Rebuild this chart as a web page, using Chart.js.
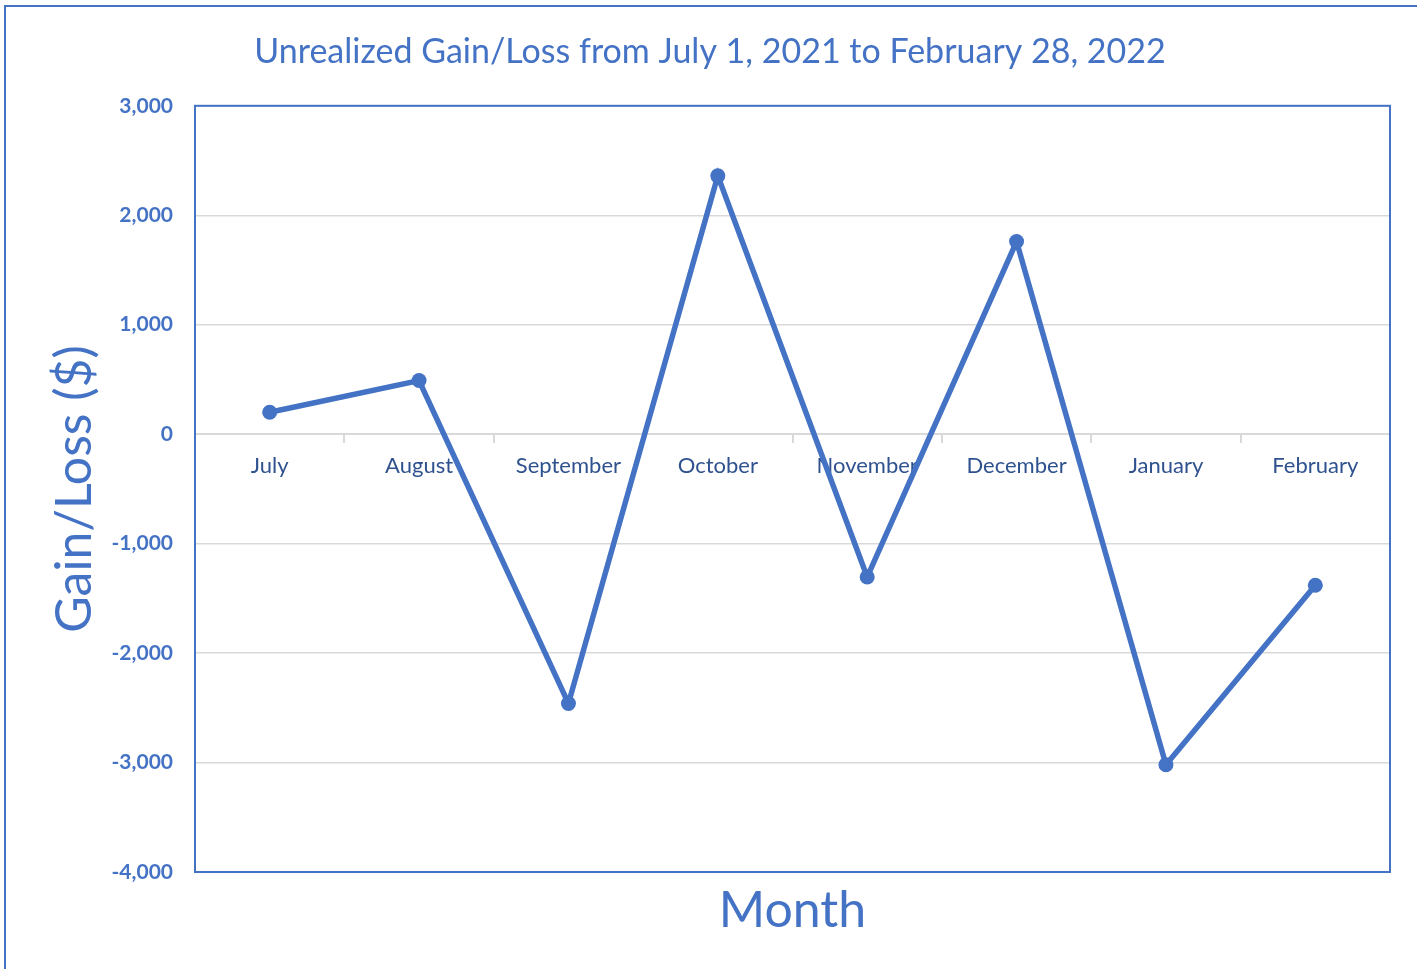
<!DOCTYPE html>
<html>
<head>
<meta charset="utf-8">
<script src="https://cdn.jsdelivr.net/npm/chart.js@4/dist/chart.umd.min.js"></script>
<style>
  html, body { margin: 0; padding: 0; background: #fff; overflow: hidden; }
  #wrap { position: relative; width: 1417px; height: 969px; }
  #frame { position: absolute; left: 4px; top: 5px; width: 1500px; height: 1100px; border: 2px solid #4472C4; box-sizing: border-box; }
  canvas { position: absolute; left: 0; top: 0; }
</style>
</head>
<body>
<div id="wrap">
  <div id="frame"></div>
  <canvas id="chart" width="1417" height="969"></canvas>
</div>
<script>
  const months = ["July", "August", "September", "October", "November", "December", "January", "February"];
  const gainLoss = [200, 490, -2460, 2360, -1305, 1760, -3020, -1380];
  const yMin = -4000;
  const yMax = 3000;
  const yStep = 1000;

  const blue = "#4472C4";
  const fontFamily = "Lato, 'Open Sans', sans-serif";

  // frame round the plot area
  const plotBorder = {
    id: "plotBorder",
    beforeDatasetsDraw(chart) {
      const { ctx, chartArea } = chart;
      ctx.save();
      ctx.strokeStyle = blue;
      ctx.lineWidth = 2;
      ctx.strokeRect(chartArea.left, chartArea.top, chartArea.right - chartArea.left, chartArea.bottom - chartArea.top);
      ctx.restore();
    }
  };

  const ctx = document.getElementById("chart").getContext("2d");
  new Chart(ctx, {
    type: "line",
    data: {
      labels: months,
      datasets: [{
        label: "Gain/Loss",
        data: gainLoss,
        borderColor: blue,
        backgroundColor: blue,
        borderWidth: 5.5,
        pointRadius: 7.5,
        pointBackgroundColor: blue,
        pointBorderWidth: 0,
        tension: 0,
        fill: false,
        xAxisID: "x",
        yAxisID: "y"
      }]
    },
    options: {
      responsive: false,
      animation: false,
      layout: { padding: { left: 30, right: 27, top: 0, bottom: 24 } },
      plugins: {
        legend: { display: false },
        tooltip: { enabled: false },
        title: {
          display: true,
          text: "Unrealized Gain/Loss from July 1, 2021 to February 28, 2022",
          color: blue,
          font: { family: fontFamily, size: 34, weight: "normal" },
          padding: { top: 32, bottom: 33 }
        }
      },
      scales: {
        x: {
          type: "category",
          position: "bottom",
          offset: true,
          grid: { display: false, drawTicks: false },
          border: { display: false },
          ticks: { display: false },
          title: {
            display: true,
            text: "Month",
            color: blue,
            font: { family: fontFamily, size: 50 },
            padding: { top: 9, bottom: 4 }
          }
        },
        x2: {
          type: "category",
          labels: months,
          position: { y: 0 },
          offset: true,
          grid: { offset: true, drawOnChartArea: false, drawTicks: true, tickLength: 8, color: "#d9d9d9", lineWidth: 2 },
          border: { display: true, color: "#d9d9d9", width: 2 },
          ticks: { color: "#2F528F", font: { family: fontFamily, size: 22 }, padding: 11, maxRotation: 0, autoSkip: false }
        },
        y: {
          min: yMin,
          max: yMax,
          position: "left",
          afterFit: s => { s.width = 165; },
          grid: { color: "#d9d9d9", lineWidth: 1.5, drawTicks: false },
          border: { display: false },
          ticks: {
            stepSize: yStep,
            padding: 22,
            color: blue,
            font: { family: fontFamily, size: 21, weight: "bold" },
            callback: v => v.toLocaleString("en-US")
          },
          title: {
            display: true,
            text: "Gain/Loss ($)",
            color: blue,
            font: { family: fontFamily, size: 50 },
            padding: { top: 15, bottom: 0 }
          }
        }
      }
    },
    plugins: [plotBorder]
  });
</script>
</body>
</html>
